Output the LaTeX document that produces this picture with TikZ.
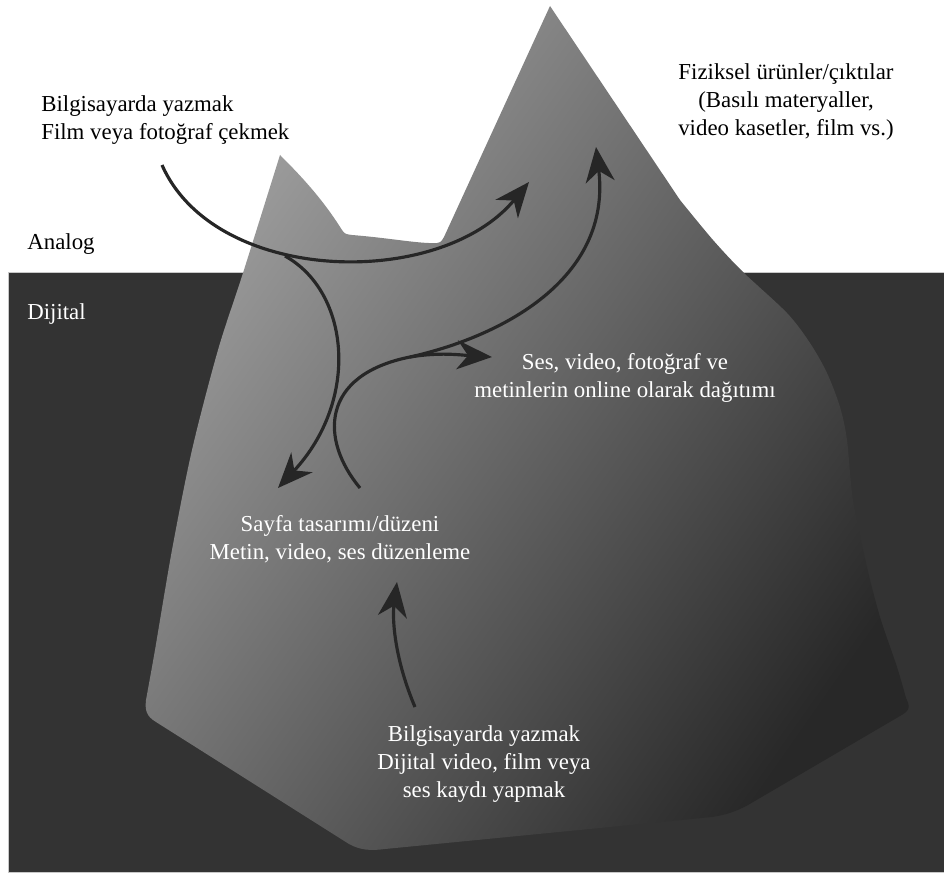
\documentclass[tikz,border=0pt]{standalone}
\usepackage{fontspec}
\setmainfont{Liberation Serif}
\usetikzlibrary{arrows.meta}
\definecolor{seadark}{RGB}{51,51,51}
\definecolor{seaedge}{RGB}{200,200,200}
\definecolor{icelight}{RGB}{160,160,160}
\definecolor{icedark}{RGB}{40,40,40}
\definecolor{flowink}{RGB}{38,38,38}

\begin{document}
\begin{tikzpicture}[x=0.02cm,y=-0.02cm,
  every node/.style={font=\fontsize{13}{16}\selectfont,inner sep=0pt},
  flow/.style={-{Stealth[length=7mm,width=5.8mm,inset=2.2mm]},line width=1.8pt,flowink}]
  \useasboundingbox (0,0) rectangle (944,875);
  % digital part (under water)
  \fill[seadark,draw=seaedge,line width=0.4pt] (8,272) rectangle (946,872);
  % iceberg
  \shade[top color=icelight,bottom color=icedark,shading angle=55]
    plot[smooth] coordinates {(146,700) (155,650) (172,550) (192,450) (218,350) (243,273) (280,155)}
    .. controls (300,175) and (322,198) .. (342,230)
    .. controls (345,234) .. (352,235)
    .. controls (390,238) and (420,244) .. (437,243)
    .. controls (441,242) .. (444,237)
    -- (550,6) -- (680,200)
    -- plot[smooth] coordinates {(680,200) (713,240) (743,272) (787,313) (810,343) (827,373) (840,407) (847,440) (853,500) (867,567) (880,617) (897,667) (906,698)}
    .. controls (911,708) and (909,711) .. (900,716)
    -- (748,805) .. controls (735,812) and (725,815) .. (712,817)
    -- (385,849) .. controls (370,851) and (360,850) .. (349,844)
    -- (156,722) .. controls (146,716) and (145,710) .. (146,700) -- cycle;

  \node[anchor=north west,align=left] (analogsrc) at (41,95)
    {Bilgisayarda yazmak\\Film veya fotoğraf çekmek};
  \node[anchor=north,align=center] (physical) at (786,63)
    {Fiziksel ürünler/çıktılar\\(Basılı materyaller,\\video kasetler, film vs.)};
  \node[anchor=north west] (analog) at (27,233) {Analog};
  \node[anchor=north west,white] (digital) at (27,303) {Dijital};
  \node[anchor=north,align=center,white] (online) at (625,353)
    {Ses, video, fotoğraf ve\\metinlerin online olarak dağıtımı};
  \node[anchor=north,align=center,white] (layout) at (340,515)
    {Sayfa tasarımı/düzeni\\Metin, video, ses düzenleme};
  \node[anchor=north,align=center,white] (digsrc) at (484,725)
    {Bilgisayarda yazmak\\Dijital video, film veya\\ses kaydı yapmak};

  \coordinate (a1s) at (162,165);
  \coordinate (a1e) at (529,182);
  \coordinate (fork) at (285,256);
  \coordinate (a2e) at (278,488);
  \coordinate (a3s) at (360,488);
  \coordinate (split) at (410,357);
  \coordinate (a3e) at (596,147);
  \coordinate (a4e) at (492,357);
  \coordinate (a5s) at (415,707);
  \coordinate (a5e) at (397,582);

  \draw[flow] (a1s) .. controls (215,285) and (440,290) .. (a1e);
  \draw[flow] (fork) .. controls (350,292) and (360,400) .. (a2e);
  \draw[flow] (a3s) .. controls (320,440) and (320,375) .. (split)
    .. controls (500,337) and (612,280) .. (a3e);
  \draw[flow] (split) .. controls (440,352) and (460,355) .. (a4e);
  \draw[flow] (a5s) .. controls (395,660) and (392,620) .. (a5e);
\end{tikzpicture}
\end{document}
